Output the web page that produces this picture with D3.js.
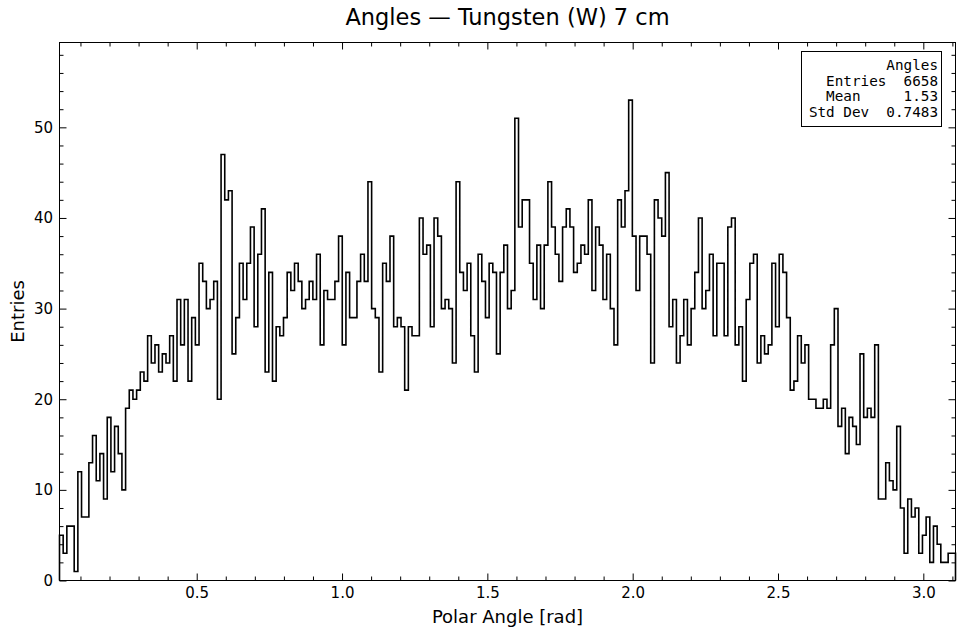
<!DOCTYPE html>
<html>
<head>
<meta charset="utf-8">
<script src="https://cdn.jsdelivr.net/npm/d3@7"></script>
<style>
  html, body { margin: 0; padding: 0; background: #fff; }
  svg { display: block; }
  text { font-family: "DejaVu Sans", sans-serif; fill: #000; }
</style>
</head>
<body>
<svg id="chart" width="958" height="630"></svg>
<script>
// ---- data ----
const title = "Angles \u2014 Tungsten (W) 7 cm";
const xLabel = "Polar Angle [rad]";
const yLabel = "Entries";
const counts = [
  5,3,6,6,1,12,7,7,13,16,
  11,14,9,18,12,17,14,10,19,21,
  20,21,23,22,27,24,26,23,25,24,
  27,22,31,26,31,22,29,26,35,33,
  30,31,33,20,47,42,43,25,29,35,
  31,35,39,28,36,41,23,34,22,28,
  27,29,34,32,35,33,30,31,33,31,
  36,26,32,31,31,33,38,26,34,29,
  29,33,36,33,44,30,29,23,35,33,
  38,28,29,28,21,28,27,27,40,36,
  37,28,40,38,30,31,30,24,44,34,
  32,35,27,23,36,33,29,35,34,25,
  34,37,30,32,51,39,42,42,35,31,
  37,30,37,44,39,36,33,39,41,39,
  34,35,37,36,42,32,39,37,31,36,
  30,26,42,39,43,53,38,32,38,38,
  36,24,42,40,38,45,28,31,24,27,
  31,26,30,34,40,30,32,36,27,35,
  35,27,39,40,26,28,22,31,35,36,
  24,27,25,26,35,28,36,34,29,21,
  22,27,24,26,20,20,19,19,20,19,
  26,30,17,19,14,18,17,15,25,18,
  19,18,26,9,9,13,11,10,17,8,
  3,9,7,8,3,5,7,2,6,4,
  2,2,3,3
];
const xRange = [0.0279, 3.1107];           // histogram range (first/last bin edge)
const xMajorTicks = [0.5, 1.0, 1.5, 2.0, 2.5, 3.0];
const xTickLabels = ["0.5", "1.0", "1.5", "2.0", "2.5", "3.0"];
const xMinorStep = 0.1;
const yMajorTicks = [0, 10, 20, 30, 40, 50];
const yTickLabels = ["0", "10", "20", "30", "40", "50"];
const yMinorStep = 2;
const yMax = 59.36;
const statsTitle = "Angles";
const statNames = ["Entries", "Mean", "Std Dev"];
const statValues = ["6658", "1.53", "0.7483"];

// ---- layout ----
const svg = d3.select("#chart");
const L = 59.5, R = 955.5, T = 42.5, B = 580.5;

const x = d3.scaleLinear().domain(xRange).range([L, R]);
const y = d3.scaleLinear().domain([0, yMax]).range([B, T]);

const binW = (xRange[1] - xRange[0]) / counts.length;
const pts = counts.map((c, i) => [xRange[0] + i * binW, c]);
pts.push([xRange[1], counts[counts.length - 1]]);

// histogram step line
const line = d3.line()
  .x(d => x(d[0]))
  .y(d => y(d[1]))
  .curve(d3.curveStepAfter);
svg.append("path")
  .attr("d", line([[xRange[0], 0]].concat(pts)) + "L" + x(xRange[1]) + "," + y(0))
  .attr("fill", "none")
  .attr("stroke", "#000")
  .attr("stroke-width", 1.6);

// minor tick values
const xMinor = d3.range(Math.ceil(xRange[0] / xMinorStep), Math.floor(xRange[1] / xMinorStep) + 1)
  .map(k => +(k * xMinorStep).toFixed(3))
  .filter(v => !xMajorTicks.some(m => Math.abs(m - v) < 1e-9));
const yMinor = d3.range(0, yMax, yMinorStep).filter(v => !yMajorTicks.includes(v));

const majLen = 7, minLen = 4;
// bottom axis
svg.append("g").attr("transform", `translate(0,${B})`)
  .call(d3.axisBottom(x).tickValues(xMajorTicks).tickFormat((d, i) => xTickLabels[i]).tickSizeInner(-majLen).tickSizeOuter(0).tickPadding(7));
svg.append("g").attr("transform", `translate(0,${B})`)
  .call(d3.axisBottom(x).tickValues(xMinor).tickFormat("").tickSizeInner(-minLen).tickSizeOuter(0));
// top axis
svg.append("g").attr("transform", `translate(0,${T})`)
  .call(d3.axisTop(x).tickValues(xMajorTicks).tickFormat("").tickSizeInner(-majLen).tickSizeOuter(0));
svg.append("g").attr("transform", `translate(0,${T})`)
  .call(d3.axisTop(x).tickValues(xMinor).tickFormat("").tickSizeInner(-minLen).tickSizeOuter(0));
// left axis
svg.append("g").attr("transform", `translate(${L},0)`)
  .call(d3.axisLeft(y).tickValues(yMajorTicks).tickFormat((d, i) => yTickLabels[i]).tickSizeInner(-majLen).tickSizeOuter(0).tickPadding(6.5));
svg.append("g").attr("transform", `translate(${L},0)`)
  .call(d3.axisLeft(y).tickValues(yMinor).tickFormat("").tickSizeInner(-minLen).tickSizeOuter(0));
// right axis
svg.append("g").attr("transform", `translate(${R},0)`)
  .call(d3.axisRight(y).tickValues(yMajorTicks).tickFormat("").tickSizeInner(-majLen).tickSizeOuter(0));
svg.append("g").attr("transform", `translate(${R},0)`)
  .call(d3.axisRight(y).tickValues(yMinor).tickFormat("").tickSizeInner(-minLen).tickSizeOuter(0));

svg.selectAll(".domain").remove();
svg.selectAll(".tick line").attr("stroke", "#000").attr("stroke-width", 1);
svg.selectAll(".tick text").style("font-family", "'DejaVu Sans', sans-serif").style("font-size", "15px").attr("fill", "#000");

// frame
svg.append("rect")
  .attr("x", L).attr("y", T).attr("width", R - L).attr("height", B - T)
  .attr("fill", "none").attr("stroke", "#000").attr("stroke-width", 1);

// title & labels
svg.append("text")
  .attr("x", (L + R) / 2).attr("y", 25)
  .attr("text-anchor", "middle")
  .style("font-size", "22.5px")
  .text(title);
svg.append("text")
  .attr("x", (L + R) / 2).attr("y", 623)
  .attr("text-anchor", "middle")
  .style("font-size", "18px")
  .text(xLabel);
svg.append("text")
  .attr("transform", `translate(24,${(T + B) / 2}) rotate(-90)`)
  .attr("text-anchor", "middle")
  .style("font-size", "18px")
  .text(yLabel);

// stats box
const box = svg.append("g");
box.append("rect")
  .attr("x", 801.5).attr("y", 51.5).attr("width", 140).attr("height", 75)
  .attr("fill", "#fff").attr("stroke", "#000").attr("stroke-width", 1);
const mono = box.append("text")
  .attr("text-anchor", "end")
  .style("font-family", "'DejaVu Sans Mono', monospace")
  .style("font-size", "14.3px");
const statLines = [statsTitle,
  "  " + statNames[0] + "  " + statValues[0],
  "  " + statNames[1] + "     " + statValues[1],
  statNames[2] + "  " + statValues[2]];
statLines.forEach((s, i) => {
  mono.append("tspan")
    .attr("x", 938)
    .attr("y", 70 + i * 15.7)
    .style("white-space", "pre")
    .text(s);
});
</script>
</body>
</html>
